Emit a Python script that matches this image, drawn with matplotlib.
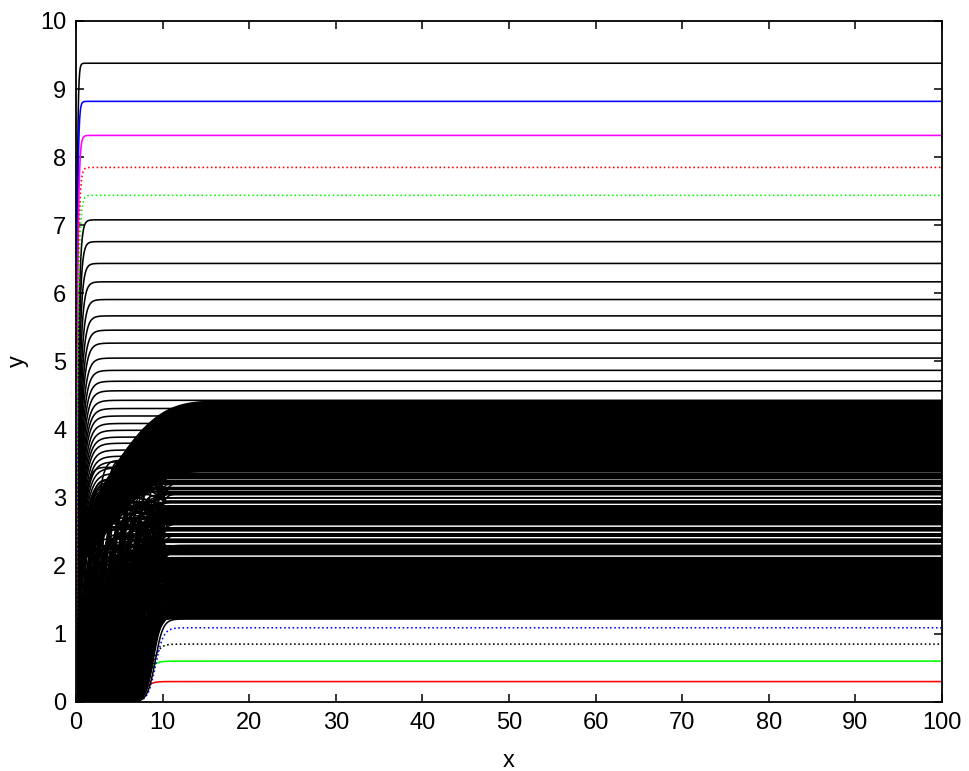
import numpy as np
import matplotlib
matplotlib.use("Agg")
import matplotlib.pyplot as plt

plt.rcParams['font.family'] = ['Liberation Sans', 'DejaVu Sans']

# fast-rising curves (top family), final level and x of the corner
upper_levels = [9.38, 8.82, 8.32, 7.85, 7.44, 7.08, 6.76, 6.44, 6.17, 5.91,
                5.67, 5.46, 5.27, 5.05, 4.87, 4.71, 4.57, 4.43, 4.31, 4.20,
                4.09, 3.99, 3.89, 3.80, 3.70, 3.61, 3.53, 3.44, 3.36, 3.28,
                3.20, 3.12]
upper_corner = [0.50, 0.60, 0.75, 0.85, 0.95, 1.10, 1.25, 1.40, 1.60, 1.80,
                1.95, 2.10, 2.20, 2.30, 2.40, 2.50, 2.60, 2.70, 2.75, 2.80,
                2.90, 3.00, 3.05, 3.10, 3.20, 3.30, 3.35, 3.40, 3.50, 3.55,
                3.60, 3.65]
upper_colors = ['k', '#0000ff', '#ff00ff', '#ff0000', '#00ff00'] + ['k'] * 27
upper_styles = ['-', '-', '-', ':', ':'] + ['-'] * 27

# late-rising coloured curves at the bottom
lower_levels = [0.30, 0.60, 0.85, 1.09]
lower_mid = [7.7, 8.0, 8.6, 9.2]
lower_colors = ['#ff0000', '#00ff00', 'k', '#0000ff']
lower_styles = ['-', '-', ':', ':']

# dense band of black curves
band_bottom = 1.22
band_bottom_mid = 9.15
band_split = 3.40
band_top = 4.43
band_gaps = [2.14, 2.32, 2.41, 2.49, 2.58, 2.90, 2.97, 3.02, 3.11, 3.17, 3.27, 3.36]
band_late_below = 1.45   # band curves under this level rise last
band_settle = 10.4       # x where the wandering band curves have all settled
band_wander = 0.30       # largest offset from the final level before settling
low_step = 0.005
high_step = 0.012

x = np.concatenate([np.linspace(0, 25, 2501), [100]])


def fast_rise(L, corner):
    return L * (1 - np.exp(-5 * x / corner))


def late_rise(L, mid, s=0.45):
    return L / (1 + np.exp(-(x - mid) / s))


def slow_rise(L):
    return L * (1 - np.exp(-0.83 * np.exp(0.135 * np.minimum(x, 40))))


def spread(i, base=2):
    # van der Corput position in [0, 1)
    v, f = 0.0, 1.0 / base
    while i:
        v += f * (i % base)
        i //= base
        f /= base
    return v


# band levels below the split rise late (logistic), above it approach slowly
low_band = np.arange(band_bottom + low_step, band_split, low_step)
low_band = [v for v in low_band if min(abs(v - g) for g in band_gaps) > 0.02]
high_band = np.arange(band_split, band_top + 1e-9, high_step)

mids = []
for i, L in enumerate(low_band):
    if L < band_late_below:
        mids.append(7.6 + 1.4 * spread(i))
    else:
        mids.append(0.2 + 8.9 * spread(i))
offsets = [2 * band_wander * (spread(i, 3) - 0.5) for i in range(len(low_band))]
settle = 1 - np.clip(x / band_settle, 0, 1) ** 4

fig = plt.figure(figsize=(9.69, 7.71), dpi=100)
ax = fig.add_axes([76 / 969, 69 / 771, 866 / 969, 681 / 771])

lw = 1.15
for L, m, col, ls in zip(lower_levels, lower_mid, lower_colors, lower_styles):
    ax.plot(x, late_rise(L, m), color=col, ls=ls, lw=lw)
for L in high_band:
    ax.plot(x, slow_rise(L), color='k', lw=lw)
for L, m, d in zip(low_band, mids, offsets):
    ax.plot(x, late_rise(1, m) * (L + d * settle), color='k', lw=lw)
ax.plot(x, late_rise(band_bottom, band_bottom_mid), color='k', lw=lw)

for L, c, col, ls in zip(upper_levels, upper_corner, upper_colors, upper_styles):
    if col == 'k':
        ax.plot(x, fast_rise(L, c), color=col, ls=ls, lw=lw)
for L, c, col, ls in zip(upper_levels, upper_corner, upper_colors, upper_styles):
    if col != 'k':
        ax.plot(x, fast_rise(L, c), color=col, ls=ls, lw=lw)

ax.set_xlim(0, 100)
ax.set_ylim(0, 10)
ax.set_xticks(range(0, 101, 10))
ax.set_yticks(range(0, 11))
ax.tick_params(direction='in', length=6, width=1.1, top=True, right=True,
               labelsize=17, pad=7)
for sp in ax.spines.values():
    sp.set_linewidth(1.3)
ax.set_xlabel('x', fontsize=17, labelpad=12)
ax.set_ylabel('y', fontsize=17, labelpad=8)

fig.savefig('out.png', dpi=100)
